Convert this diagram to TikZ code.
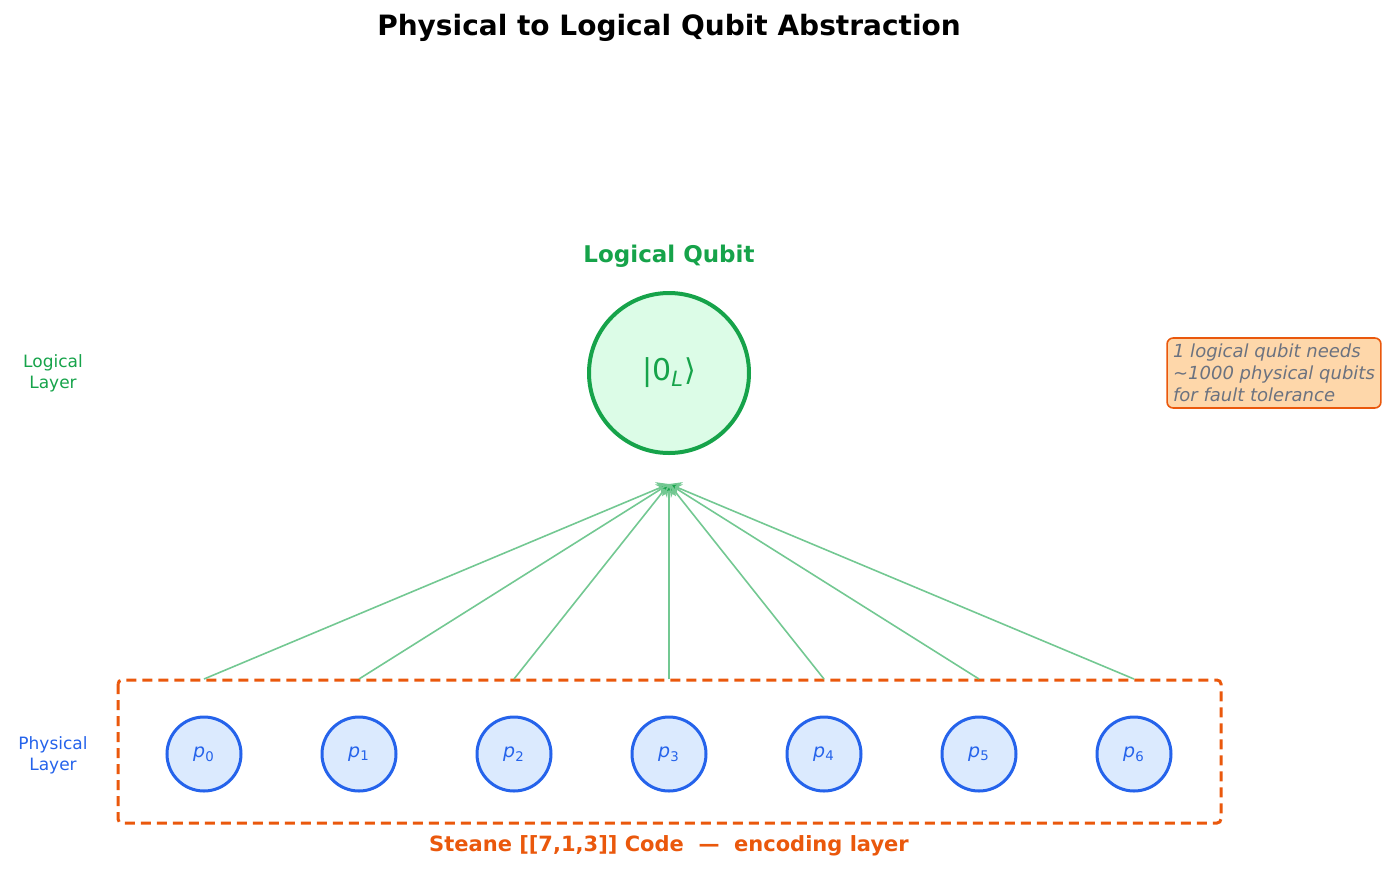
\documentclass[tikz,border=0pt]{standalone}
\usepackage{fontspec}
\setmainfont{DejaVu Sans}
\usetikzlibrary{arrows.meta}
\definecolor{cgreen}{HTML}{16A34A}
\definecolor{cgreenl}{HTML}{DCFCE7}
\definecolor{cblue}{HTML}{2563EB}
\definecolor{cbluel}{HTML}{DBEAFE}
\definecolor{corange}{HTML}{EA580C}
\definecolor{cnote}{HTML}{FED7AA}
\definecolor{cgray}{HTML}{6B7280}
\tikzset{
 phys/.style={circle,draw=cblue,fill=cbluel,line width=1.5pt,minimum size=37pt,inner sep=0pt,text=cblue,font=\fontsize{9.5}{11}\selectfont},
 conn/.style={draw=cgreen!60,line width=0.8pt,-{Stealth[length=6pt,width=7pt,fill=cgreen]}},
}
\begin{document}
\begin{tikzpicture}[x=0.5pt,y=-0.5pt]
\useasboundingbox (0,0) rectangle (1394,885);
\node[font=\fontsize{14}{16}\selectfont\bfseries] (title) at (669,28) {Physical to Logical Qubit Abstraction};
\node[font=\fontsize{11.5}{14}\selectfont\bfseries,text=cgreen] (ltitle) at (669,256) {Logical Qubit};
\node[circle,draw=cgreen,fill=cgreenl,line width=2pt,minimum size=80pt,inner sep=0pt,text=cgreen,font=\fontsize{15}{18}\selectfont] (L) at (669,373) {|0\textsubscript{\itshape L}⟩};
\coordinate (tgt) at (669,484);
\draw[corange,line width=1.5pt,dash pattern=on 5pt off 3pt,rounded corners=2pt] (118,680) rectangle (1221,823);
\foreach \i in {0,...,6}{
  \node[phys] (p\i) at (204+155*\i,754) {\textit{p}\textsubscript{\i}};
  \coordinate (t\i) at (204+155*\i,679);
  \draw[conn] (t\i) -- (tgt);
}
\node[font=\fontsize{8.5}{10.5}\selectfont,text=cgreen,align=center] (ll) at (53,373) {Logical\\Layer};
\node[font=\fontsize{8.5}{10.5}\selectfont,text=cblue,align=center] (pl) at (53,755) {Physical\\Layer};
\node[font=\fontsize{10.5}{12}\selectfont\bfseries,text=corange] (code) at (669,846) {Steane [[7,1,3]] Code \ —\ \ encoding layer};
\node[draw=corange,fill=cnote,rounded corners=3pt,line width=0.8pt,text=cgray,align=left,inner sep=3pt,font=\fontsize{9}{11}\selectfont\itshape] (note) at (1274,373) {1 logical qubit needs\\\textasciitilde1000 physical qubits\\for fault tolerance};
\end{tikzpicture}
\end{document}
